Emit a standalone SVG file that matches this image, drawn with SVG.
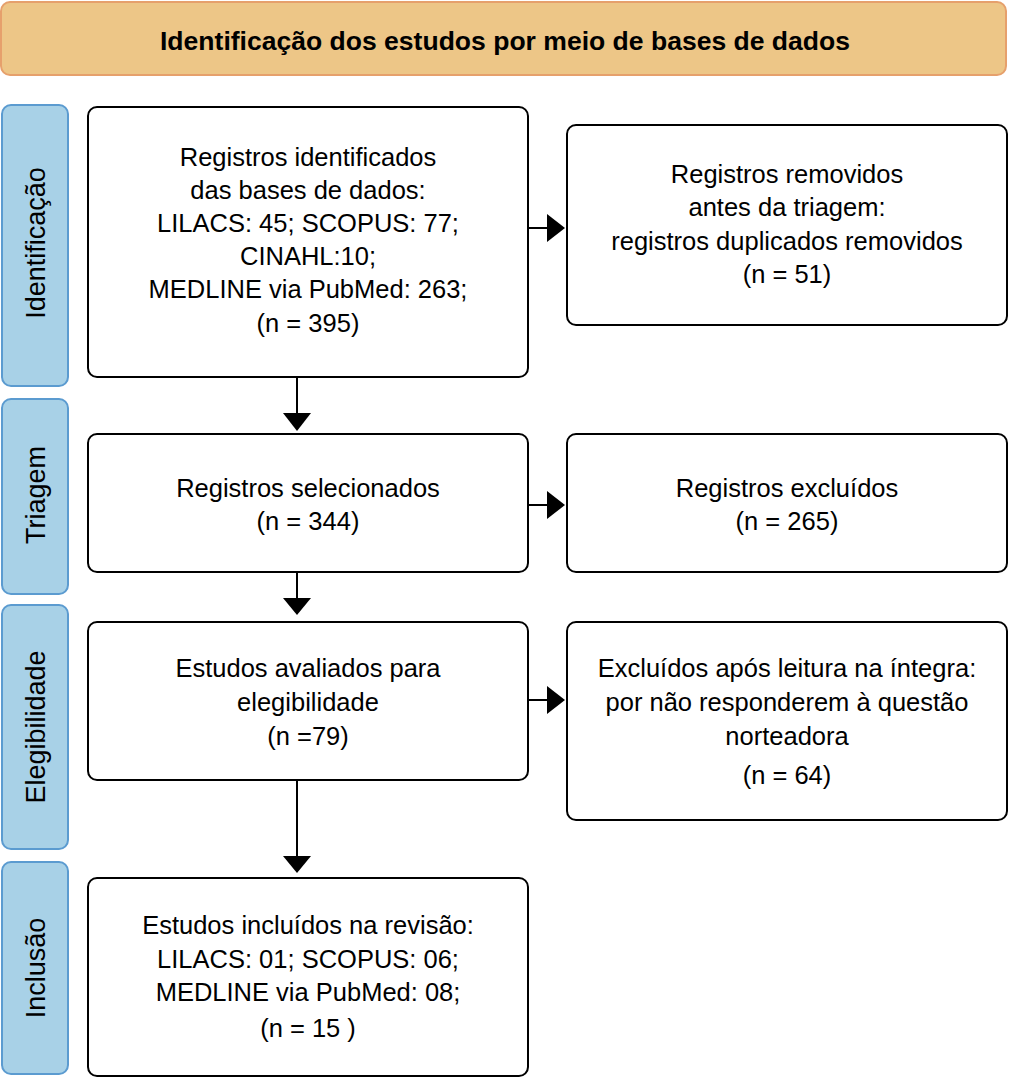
<svg xmlns="http://www.w3.org/2000/svg" width="1010" height="1079" viewBox="0 0 1010 1079">
<style>
.hdr{fill:#EDC687;stroke:#E6A06C;stroke-width:2}
.side{fill:#A8D1E7;stroke:#5B9BD0;stroke-width:2}
.box{fill:#fff;stroke:#000;stroke-width:2}
.t{font-family:"Liberation Sans",Arial,sans-serif;font-size:25.5px;fill:#000;text-anchor:middle}
.ht{font-family:"Liberation Sans",Arial,sans-serif;font-size:26px;font-weight:bold;fill:#000;text-anchor:middle}
.st{font-family:"Liberation Sans",Arial,sans-serif;font-size:27px;fill:#000;text-anchor:middle}
.c{stroke:#000;stroke-width:2;fill:none}
</style>
<rect width="1010" height="1079" fill="#fff"/>
<g id="header">
<rect class="hdr" x="1" y="2" width="1005" height="73" rx="9"/>
<text class="ht" x="505" y="50" textLength="690" lengthAdjust="spacingAndGlyphs">Identificação dos estudos por meio de bases de dados</text>
</g>
<g id="side-identificacao">
<rect class="side" x="2" y="105" width="66" height="281" rx="9"/>
<text class="st" transform="translate(45,243) rotate(-90)">Identificação</text>
</g>
<g id="side-triagem">
<rect class="side" x="2" y="399" width="66" height="195" rx="9"/>
<text class="st" transform="translate(45,495) rotate(-90)">Triagem</text>
</g>
<g id="side-elegibilidade">
<rect class="side" x="2" y="605" width="66" height="244" rx="9"/>
<text class="st" transform="translate(45,727) rotate(-90)">Elegibilidade</text>
</g>
<g id="side-inclusao">
<rect class="side" x="2" y="862" width="66" height="212" rx="9"/>
<text class="st" transform="translate(45,968) rotate(-90)">Inclusão</text>
</g>
<g id="box-registros">
<rect class="box" x="88" y="107" width="440" height="270" rx="9"/>
<text class="t" x="308" y="166">Registros identificados</text>
<text class="t" x="308" y="199">das bases de dados:</text>
<text class="t" x="308" y="232">LILACS: 45; SCOPUS: 77;</text>
<text class="t" x="308" y="265">CINAHL:10;</text>
<text class="t" x="308" y="298">MEDLINE via PubMed: 263;</text>
<text class="t" x="308" y="332">(n = 395)</text>
</g>
<g id="box-removidos">
<rect class="box" x="567" y="125" width="440" height="200" rx="9"/>
<text class="t" x="787" y="183">Registros removidos</text>
<text class="t" x="787" y="216">antes da triagem:</text>
<text class="t" x="787" y="250">registros duplicados removidos</text>
<text class="t" x="787" y="283">(n = 51)</text>
</g>
<g id="box-selecionados">
<rect class="box" x="88" y="434" width="440" height="138" rx="9"/>
<text class="t" x="308" y="497">Registros selecionados</text>
<text class="t" x="308" y="530">(n = 344)</text>
</g>
<g id="box-excluidos">
<rect class="box" x="567" y="434" width="440" height="138" rx="9"/>
<text class="t" x="787" y="497">Registros excluídos</text>
<text class="t" x="787" y="530">(n = 265)</text>
</g>
<g id="box-avaliados">
<rect class="box" x="88" y="622" width="440" height="158" rx="9"/>
<text class="t" x="308" y="677">Estudos avaliados para</text>
<text class="t" x="308" y="711">elegibilidade</text>
<text class="t" x="308" y="745">(n =79)</text>
</g>
<g id="box-excluidos-integra">
<rect class="box" x="567" y="622" width="440" height="198" rx="9"/>
<text class="t" x="787" y="677">Excluídos após leitura na íntegra:</text>
<text class="t" x="787" y="711">por não responderem à questão</text>
<text class="t" x="787" y="745">norteadora</text>
<text class="t" x="787" y="784">(n = 64)</text>
</g>
<g id="box-incluidos">
<rect class="box" x="88" y="878" width="440" height="198" rx="9"/>
<text class="t" x="308" y="934">Estudos incluídos na revisão:</text>
<text class="t" x="308" y="968">LILACS: 01; SCOPUS: 06;</text>
<text class="t" x="308" y="1001">MEDLINE via PubMed: 08;</text>
<text class="t" x="308" y="1037">(n = 15 )</text>
</g>
<g id="connectors">
<line class="c" x1="297" y1="377" x2="297" y2="414"/>
<path d="M283,413 L311,413 L297,431 Z" fill="#000"/>
<line class="c" x1="297" y1="572" x2="297" y2="599"/>
<path d="M283,598 L311,598 L297,615 Z" fill="#000"/>
<line class="c" x1="297" y1="780" x2="297" y2="857"/>
<path d="M283,856 L311,856 L297,873 Z" fill="#000"/>
<line class="c" x1="528" y1="228" x2="548" y2="228"/>
<path d="M547,214 L565,228 L547,242 Z" fill="#000"/>
<line class="c" x1="528" y1="505" x2="548" y2="505"/>
<path d="M547,491 L565,505 L547,519 Z" fill="#000"/>
<line class="c" x1="528" y1="700" x2="548" y2="700"/>
<path d="M547,686 L565,700 L547,714 Z" fill="#000"/>
</g>
</svg>
